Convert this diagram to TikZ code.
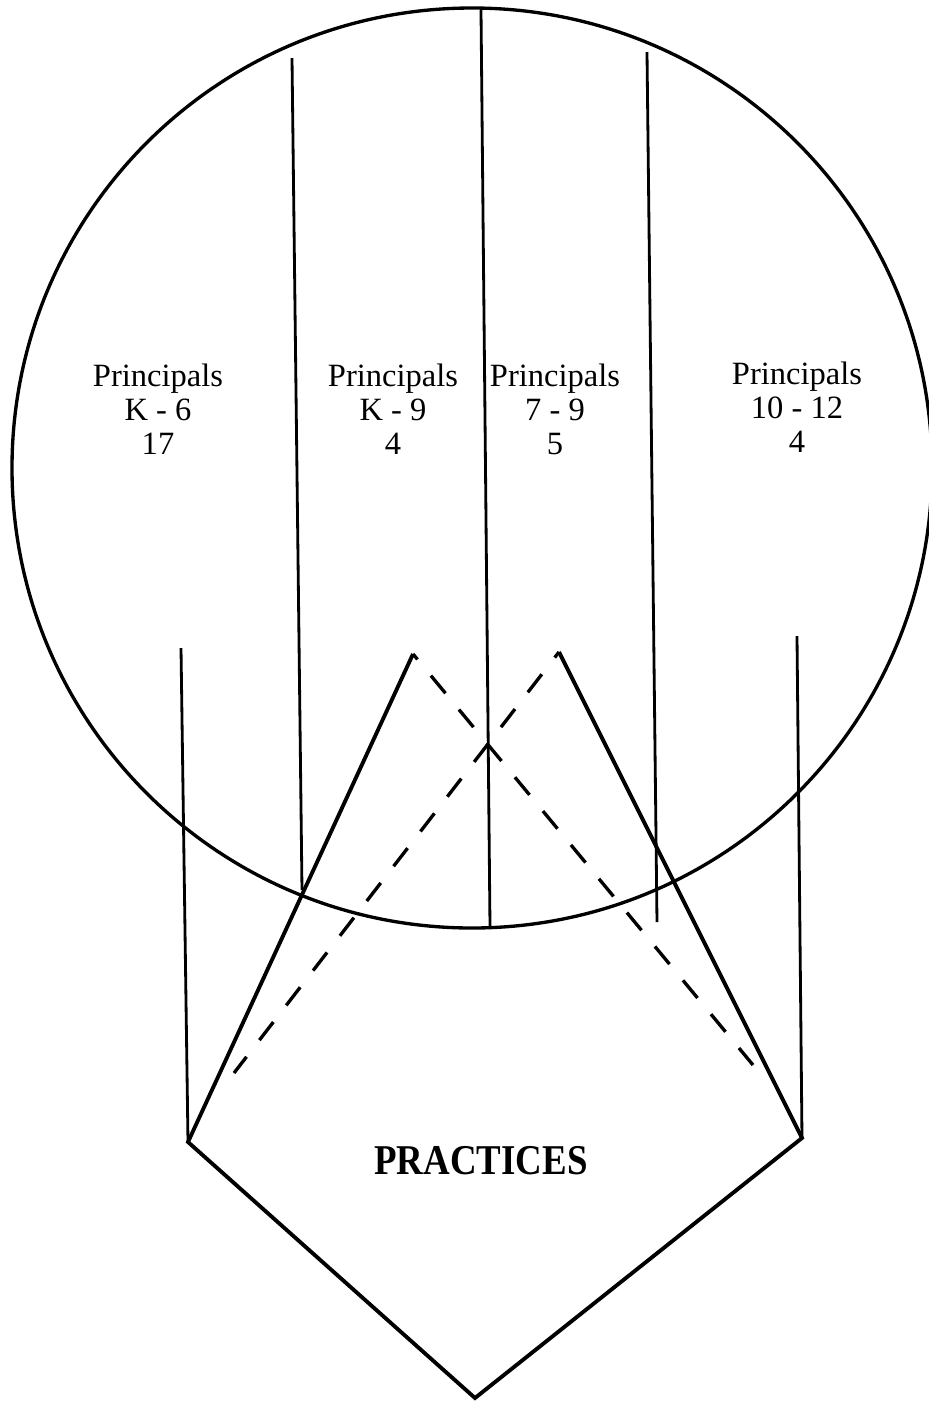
\documentclass[tikz,border=0pt]{standalone}
\usepackage{fontspec}
\setmainfont{Liberation Serif}
\begin{document}
\begin{tikzpicture}[x=0.2mm, y=-0.2mm, font=\fontsize{18.5}{19.3}\selectfont]

\tikzset{
  rim/.style    = {line width=1.9pt},
  band/.style   = {line width=1.6pt},
  edge/.style   = {line width=2.2pt, line join=miter},
  hidden/.style = {line width=1.9pt, dash pattern=on 13pt off 12pt, dash phase=9pt},
  group/.style  = {align=center, inner sep=0pt},
}

\useasboundingbox (0,0) rectangle (929,1401);

%% ---------- the circle ----------
\draw[rim] (472,468) circle[radius=9.2cm];

%% ---------- the bands ----------
\draw[band] (292,58) -- (302,890);
\draw[band] (481,10) -- (490,926);
\draw[band] (647,52) -- (657,922);

\node[group] (k6)    at (158,409) {Principals\\K - 6\\17};
\node[group] (k9)    at (393,409) {Principals\\K - 9\\4};
\node[group] (g79)   at (555,409) {Principals\\7 - 9\\5};
\node[group] (g1012) at (797,407) {Principals\\10 - 12\\4};

%% ---------- the practices ----------
\coordinate (left)  at (188,1142);
\coordinate (right) at (802,1138);
\coordinate (tip)   at (475,1398);
\coordinate (apexL) at (413,654);
\coordinate (apexR) at (559,652);
\coordinate (endL)  at (234,1073);
\coordinate (endR)  at (753,1065);

\draw[band] (181,648) -- (left);
\draw[band] (797,636) -- (right);
\draw[edge] (apexL) -- (left) -- (tip) -- (right) -- (apexR);
\draw[hidden] (apexL) -- (endR);
\draw[hidden] (apexR) -- (endL);

\node[font=\fontsize{21}{25}\selectfont\bfseries, inner sep=0pt, yscale=1.15] (practices) at (481,1161) {PRACTICES};

\end{tikzpicture}
\end{document}
